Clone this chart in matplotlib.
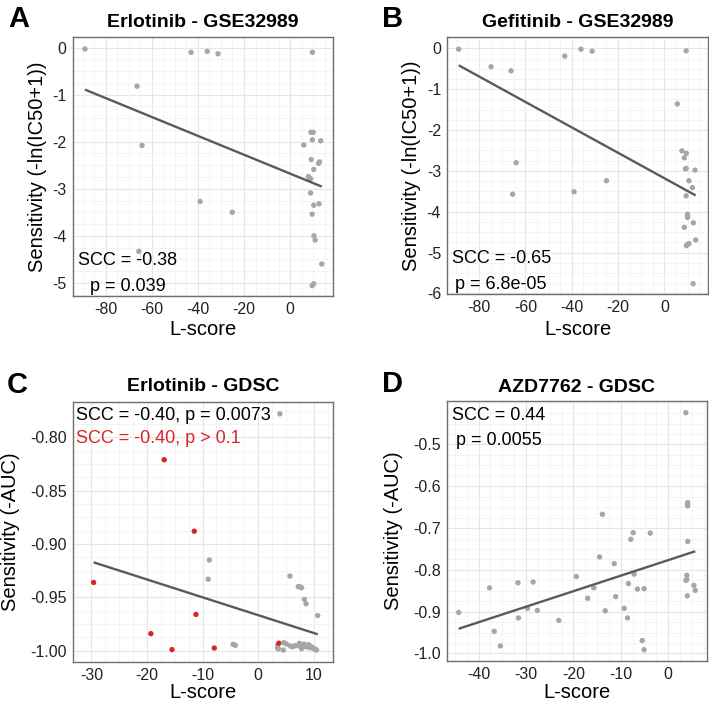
import matplotlib
matplotlib.use('Agg')
import matplotlib.pyplot as plt
import numpy as np
from matplotlib.ticker import FixedLocator, MultipleLocator

plt.rcParams['font.family'] = ['Liberation Sans', 'DejaVu Sans']
plt.rcParams['axes.unicode_minus'] = False

# ---------------- data ----------------
A_x = [-89.1, -43, -36, -31.3, 9.7, -66.5, -64.3, -39.1, -25.1, -65.7, 9.1, 10.1, 9.7, 13.3, 6.0,
       9.2, 12.8, 12.4, 10.3, 8.0, 8.4, 8.9, 8.9, 10.3, 12.6, 9.6, 10.4, 10.9, 13.8, 9.6, 10.3]
A_y = [-0.03, -0.10, -0.08, -0.13, -0.10, -0.82, -2.08, -3.27, -3.50, -4.33, -1.80, -1.80, -1.96, -1.98, -2.07,
       -2.38, -2.43, -2.46, -2.59, -2.74, -2.77, -2.79, -3.09, -3.35, -3.32, -3.54, -4.00, -4.09, -4.60, -5.06, -5.02]

B_x = [-88.8, -74.8, -66.2, -43, -36, -31.2, 9.4, -64, -65.5, -39, -25, 5.6, 7.6, 9.5, 8.6, 9.4, 9.1, 13.2,
       10.6, 12.1, 9.4, 10.0, 10.0, 10.0, 12.5, 8.6, 13.5, 9.5, 10.0, 10.6, 12.4]
B_y = [-0.02, -0.45, -0.55, -0.19, -0.02, -0.07, -0.06, -2.80, -3.57, -3.51, -3.24, -1.36, -2.51, -2.57, -2.68,
       -2.94, -2.95, -2.98, -3.24, -3.41, -3.61, -4.06, -4.10, -4.14, -4.27, -4.38, -4.69, -4.83, -4.80, -4.78, -5.76]

C_gray_x = [3.9, -8.8, -9.0, 5.7, 7.2, 7.5, 7.8, 8.3, 8.6, 10.7, -4.5, -4.1,
            3.5, 3.5, 3.6, 4.6, 4.5, 5.1, 5.8, 6.2, 6.6, 7.1, 7.4, 7.6, 7.8, 8.2, 8.5, 8.8, 9.1, 9.2, 9.6, 9.9, 10.2, 10.5]
C_gray_y = [-0.778, -0.915, -0.933, -0.930, -0.940, -0.940, -0.941, -0.952, -0.956, -0.967, -0.994, -0.995,
            -0.9947, -0.9972, -0.9984, -0.9925, -0.9994, -0.9938, -0.9956, -0.9963, -0.9953, -0.9953, -0.9931,
            -0.9953, -0.9981, -0.9938, -0.9963, -0.9947, -0.9944, -0.9972, -0.9963, -0.9981, -0.9984, -0.9994]
C_red_x = [-29.6, -16.9, -11.5, -11.2, -19.3, -15.5, -7.9, 3.7]
C_red_y = [-0.936, -0.821, -0.888, -0.966, -0.984, -0.999, -0.9975, -0.993]

D_x = [-44.2, -37.7, -36.7, -35.4, -31.7, -31.6, -29.7, -28.5, -27.6, -23.1, -19.4, -17.0, -15.7, -14.5,
       -13.9, -13.3, -11.4, -11.1, -9.3, -8.6, -8.4, -7.9, -7.4, -7.2, -6.5, -5.5, -5.1, -5.1, -3.8,
       3.7, 4.1, 4.1, 4.1, 4.1, 3.9, 3.7, 3.9, 4.0, 5.4, 5.7]
D_y = [-0.902, -0.843, -0.947, -0.982, -0.831, -0.915, -0.892, -0.829, -0.897, -0.921, -0.816, -0.868, -0.843,
       -0.769, -0.667, -0.898, -0.785, -0.864, -0.892, -0.915, -0.833, -0.727, -0.711, -0.810, -0.846, -0.969,
       -0.991, -0.845, -0.712, -0.424, -0.639, -0.643, -0.647, -0.732, -0.813, -0.825, -0.823, -0.862, -0.837, -0.849]

titles = ["Erlotinib - GSE32989", "Gefitinib - GSE32989", "Erlotinib - GDSC", "AZD7762 - GDSC"]
letters = ["A", "B", "C", "D"]
ylabels = ["Sensitivity (-ln(IC50+1))", "Sensitivity (-ln(IC50+1))", "Sensitivity (-AUC)", "Sensitivity (-AUC)"]
xlabel = "L-score"

A_xticks = [-80, -60, -40, -20, 0]
A_yticks = [0, -1, -2, -3, -4, -5]
B_yticks = [0, -1, -2, -3, -4, -5, -6]
C_xticks = [-30, -20, -10, 0, 10]
C_yticks = [-0.80, -0.85, -0.90, -0.95, -1.00]
D_xticks = [-40, -30, -20, -10, 0]
D_yticks = [-0.5, -0.6, -0.7, -0.8, -0.9, -1.0]

# ---------------- figure ----------------
W, H = 709, 702
fig = plt.figure(figsize=(W / 100, H / 100), dpi=100)


def rect(l, t, r, b):
    return [l / W, 1 - b / H, (r - l) / W, (b - t) / H]


def fx(x):
    return x / W


def fy(y):
    return 1 - y / H


GRAY = '#a6a6a6'
RED = '#d7262b'
LINE = '#5a5a5a'

panels = [
    dict(r=(73, 37.3, 333.3, 296), xlim=(-94.3, 18.8), ylim=(-5.28, 0.22), xt=A_xticks, yt=A_yticks,
         fmt='{:g}', mx=5, my=0.25, letter=(8, 26.7), title_y=26.7, ylab_x=38, xlab_y=335),
    dict(r=(447.3, 37.3, 707.7, 294.3), xlim=(-93.7, 18.7), ylim=(-6.02, 0.27), xt=A_xticks, yt=B_yticks,
         fmt='{:g}', mx=5, my=0.25, letter=(381.7, 26.7), title_y=26.7, ylab_x=411.7, xlab_y=335),
    dict(r=(73, 401.7, 333.3, 661.7), xlim=(-33.3, 13.5), ylim=(-1.0103, -0.7666), xt=C_xticks, yt=C_yticks,
         fmt='{:.2f}', mx=2.5, my=0.0125, letter=(6.7, 393.3), title_y=390.7, ylab_x=11, xlab_y=698),
    dict(r=(447.3, 401, 706.7, 661), xlim=(-46.6, 8.1), ylim=(-1.018, -0.396), xt=D_xticks, yt=D_yticks,
         fmt='{:.1f}', mx=2.5, my=0.025, letter=(381.7, 391.7), title_y=392.3, ylab_x=393.7, xlab_y=698),
]

series = [
    [(A_x, A_y, GRAY)],
    [(B_x, B_y, GRAY)],
    [(C_gray_x, C_gray_y, GRAY), (C_red_x, C_red_y, RED)],
    [(D_x, D_y, GRAY)],
]

annots = [
    [(0.019, 0.12, "SCC = -0.38", 'black'), (0.065, 0.02, "p = 0.039", 'black')],
    [(0.017, 0.121, "SCC = -0.65", 'black'), (0.030, 0.02, "p = 6.8e-05", 'black')],
    [(0.012, 0.93, "SCC = -0.40, p = 0.0073", 'black'), (0.012, 0.842, "SCC = -0.40, p > 0.1", RED)],
    [(0.017, 0.927, "SCC = 0.44", 'black'), (0.034, 0.831, "p = 0.0055", 'black')],
]

for i, p in enumerate(panels):
    ax = fig.add_axes(rect(*p['r']))
    ax.set_xlim(*p['xlim'])
    ax.set_ylim(*p['ylim'])
    ax.xaxis.set_major_locator(FixedLocator(p['xt']))
    ax.yaxis.set_major_locator(FixedLocator(p['yt']))
    ax.set_xticklabels(['{:g}'.format(v) for v in p['xt']])
    ax.set_yticklabels([p['fmt'].format(v) for v in p['yt']])
    ax.xaxis.set_minor_locator(MultipleLocator(p['mx']))
    ax.yaxis.set_minor_locator(MultipleLocator(p['my']))
    ax.tick_params(which='both', length=0)
    ax.tick_params(axis='x', pad=4.2, labelsize=11.5, labelcolor='#222222')
    ax.tick_params(axis='y', pad=4.5, labelsize=11.5, labelcolor='#222222')
    ax.grid(which='minor', color='#f2f2f2', lw=0.6)
    ax.grid(which='major', color='#e6e6e6', lw=0.8)
    ax.set_axisbelow(True)
    for s in ax.spines.values():
        s.set_color('#6e6e6e')
        s.set_linewidth(1.0)

    allx, ally = [], []
    for xs, ys, c in series[i]:
        ax.scatter(xs, ys, s=15, color=c, edgecolors='none', zorder=3)
        allx += list(xs)
        ally += list(ys)
    allx = np.array(allx)
    ally = np.array(ally)
    k, b = np.polyfit(allx, ally, 1)
    xx = np.array([allx.min(), allx.max()])
    ax.plot(xx, k * xx + b, color=LINE, lw=1.7, zorder=4, solid_capstyle='butt')

    for (tx, ty, txt, col) in annots[i]:
        ax.text(tx, ty, txt, transform=ax.transAxes, ha='left', va='baseline', fontsize=13, color=col, zorder=5)

    l, t, r, bb = p['r']
    fig.text(fx((l + r) / 2), fy(p['title_y']), titles[i], ha='center', va='baseline',
             fontsize=14, fontweight='bold')
    fig.text(fx(p['letter'][0]), fy(p['letter'][1]), letters[i], ha='left', va='baseline',
             fontsize=21, fontweight='bold')
    fig.text(fx(p['ylab_x']), fy((t + bb) / 2), ylabels[i], rotation=90, ha='center', va='center',
             fontsize=14.5)
    fig.text(fx((l + r) / 2), fy(p['xlab_y']), xlabel, ha='center', va='baseline', fontsize=14.5)

fig.savefig('out.png', dpi=100)
